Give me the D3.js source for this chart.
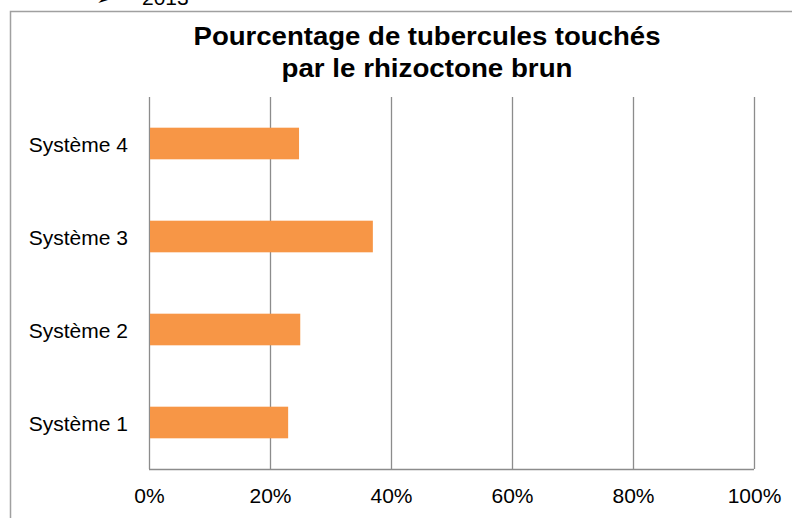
<!DOCTYPE html>
<html><head><meta charset="utf-8">
<script src="https://cdn.jsdelivr.net/npm/d3@7"></script>
<style>body{margin:0;background:#fff}svg{display:block}</style>
</head><body><svg id="c" width="792" height="518"></svg>
<script>
const categories = ["Système 1", "Système 2", "Système 3", "Système 4"];
const values = [0.23, 0.25, 0.37, 0.248];
const ticks = [0, 0.2, 0.4, 0.6, 0.8, 1.0];
const titleLines = ["Pourcentage de tubercules touchés", "par le rhizoctone brun"];
const titleWidths = [467, 291];

const svg = d3.select("#c");
const font = "Liberation Sans, Arial, sans-serif";
const m = {left:149, right:754, top:97, bottom:469};

// top caption cut off
svg.append("text").attr("x",96).attr("y",5).attr("font-family",font).attr("font-size",21).attr("fill","#000").text("➢");
svg.append("text").attr("x",142).attr("y",5).attr("font-family",font).attr("font-size",21).attr("fill","#000").text("2013");

// frame
svg.append("rect").attr("x",10.5).attr("y",11.5).attr("width",800).attr("height",520)
  .attr("fill","#fff").attr("stroke","#a0a0a0").attr("stroke-width",1.5);

const x = d3.scaleLinear().domain([0,1]).range([m.left,m.right]);
const y = d3.scaleBand().domain(categories.slice().reverse()).range([m.top,m.bottom]).paddingInner(0.66).paddingOuter(0.33);

// gridlines
svg.append("g").selectAll("line").data(ticks).join("line")
  .attr("x1",d=>Math.round(x(d))+0.5).attr("x2",d=>Math.round(x(d))+0.5)
  .attr("y1",m.top).attr("y2",m.bottom)
  .attr("stroke","#8c8c8c").attr("stroke-width",1.3);

// bars
svg.append("g").selectAll("rect").data(categories).join("rect")
  .attr("x",x(0)+1).attr("y",d=>y(d))
  .attr("width",(d,i)=>x(values[i])-x(0)-1).attr("height",y.bandwidth())
  .attr("fill","#f79646");

// bottom axis line
svg.append("line").attr("x1",m.left).attr("x2",m.right).attr("y1",m.bottom+0.5).attr("y2",m.bottom+0.5)
  .attr("stroke","#8c8c8c").attr("stroke-width",1.3);

// x tick labels
const xa = d3.axisBottom(x).tickValues(ticks).tickFormat(d3.format(".0%")).tickSize(0).tickPadding(19);
const gx = svg.append("g").attr("transform",`translate(0,${m.bottom})`).call(xa);
gx.select(".domain").remove();
gx.selectAll("text").attr("font-family",font).attr("font-size",21).attr("fill","#000");

// y labels
const ya = d3.axisLeft(y).tickSize(0).tickPadding(21);
const gy = svg.append("g").attr("transform",`translate(${m.left},0)`).call(ya);
gy.select(".domain").remove();
gy.selectAll("text").attr("font-family",font).attr("font-size",21).attr("fill","#000").attr("dy","0.4em");

// title
svg.append("g").selectAll("text").data(titleLines).join("text")
  .attr("x",427).attr("y",(d,i)=>45+i*32).attr("text-anchor","middle")
  .attr("font-family",font).attr("font-size",25).attr("font-weight","bold").attr("fill","#000")
  .attr("textLength",(d,i)=>titleWidths[i]).attr("lengthAdjust","spacingAndGlyphs")
  .text(d=>d);
</script></body></html>
